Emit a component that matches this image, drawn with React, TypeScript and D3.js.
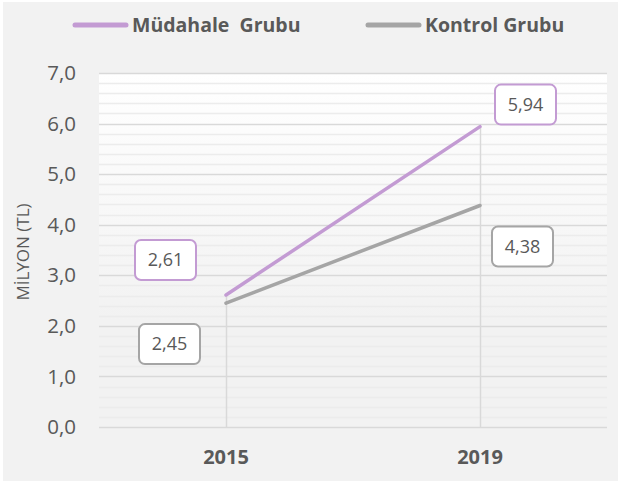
import React, { useEffect, useRef } from "react";
import * as d3 from "d3";

const years = ["2015", "2019"];
const mudahale = [2.61, 5.94];
const kontrol = [2.45, 4.38];
const seriesNames = ["Müdahale  Grubu", "Kontrol Grubu"];
const yTicks = [0, 1, 2, 3, 4, 5, 6, 7];
const yTitle = "MİLYON (TL)";

const FONT = "'Open Sans', 'Noto Sans', sans-serif";
const TEXT = "#595959";

const App = () => {
  const ref = useRef<SVGSVGElement>(null);

  useEffect(() => {
    const width = 618;
    const height = 481;
    const margin = { top: 73, right: 11, bottom: 54, left: 99 };

    const svg = d3.select(ref.current);
    svg.selectAll("*").remove();

    svg.append("rect").attr("width", width).attr("height", height).attr("fill", "#fff");
    svg
      .append("rect")
      .attr("x", 3)
      .attr("y", 2)
      .attr("width", width - 3)
      .attr("height", height - 2)
      .attr("fill", "#f2f2f2");

    const x = d3
      .scalePoint()
      .domain(years)
      .range([margin.left, width - margin.right])
      .padding(0.5);

    const y = d3
      .scaleLinear()
      .domain([0, 7])
      .range([height - margin.bottom, margin.top]);

    // plot area gradient
    const grad = svg
      .append("defs")
      .append("linearGradient")
      .attr("id", "plotGrad")
      .attr("x1", 0)
      .attr("y1", 0)
      .attr("x2", 0)
      .attr("y2", 1);
    grad.append("stop").attr("offset", "0%").attr("stop-color", "#ffffff");
    grad.append("stop").attr("offset", "70%").attr("stop-color", "#f2f2f2");

    svg
      .append("rect")
      .attr("x", margin.left)
      .attr("y", y(7))
      .attr("width", width - margin.right - margin.left)
      .attr("height", y(0) - y(7))
      .attr("fill", "url(#plotGrad)");

    // minor gridlines
    const minor = d3.range(0, 7, 0.2).filter((v) => Math.abs(v - Math.round(v)) > 0.01);
    svg
      .append("g")
      .selectAll("line")
      .data(minor)
      .join("line")
      .attr("x1", margin.left)
      .attr("x2", width - margin.right)
      .attr("y1", (d) => Math.round(y(d)) + 0.5)
      .attr("y2", (d) => Math.round(y(d)) + 0.5)
      .attr("stroke", "#ececec")
      .attr("stroke-width", 1.5);

    // major gridlines
    svg
      .append("g")
      .selectAll("line")
      .data(yTicks)
      .join("line")
      .attr("x1", margin.left)
      .attr("x2", width - margin.right)
      .attr("y1", (d) => Math.round(y(d)) + 0.5)
      .attr("y2", (d) => Math.round(y(d)) + 0.5)
      .attr("stroke", "#d9d9d9")
      .attr("stroke-width", 1.5);

    // y tick labels
    svg
      .append("g")
      .selectAll("text")
      .data(yTicks)
      .join("text")
      .attr("x", 76)
      .attr("y", (d) => y(d))
      .attr("dy", "0.35em")
      .attr("text-anchor", "end")
      .attr("font-family", FONT)
      .attr("font-size", 20.5)
      .attr("fill", TEXT)
      .text((d) => d3.format(".1f")(d).replace(".", ","));

    // x labels
    svg
      .append("g")
      .selectAll("text")
      .data(years)
      .join("text")
      .attr("x", (d) => x(d)!)
      .attr("y", 464)
      .attr("text-anchor", "middle")
      .attr("font-family", FONT)
      .attr("font-size", 20)
      .attr("font-weight", "bold")
      .attr("fill", TEXT)
      .text((d) => d);

    // y title
    svg
      .append("text")
      .attr("transform", `translate(29,${(y(0) + y(7)) / 2 + 2}) rotate(-90)`)
      .attr("text-anchor", "middle")
      .attr("font-family", FONT)
      .attr("font-size", 17)
      .attr("fill", TEXT)
      .text(yTitle);

    // drop lines
    svg
      .append("g")
      .selectAll("line")
      .data(years)
      .join("line")
      .attr("x1", (d) => Math.round(x(d)!) + 0.5)
      .attr("x2", (d) => Math.round(x(d)!) + 0.5)
      .attr("y1", (d, i) => y(Math.max(mudahale[i], kontrol[i])))
      .attr("y2", y(0))
      .attr("stroke", "#d9d9d9")
      .attr("stroke-width", 1.5);

    const series = [
      { name: seriesNames[0], values: mudahale, color: "#c39bd3" },
      { name: seriesNames[1], values: kontrol, color: "#a5a5a5" },
    ];

    const line = d3
      .line<number>()
      .x((d, i) => x(years[i])!)
      .y((d) => y(d));

    series.forEach((s) => {
      svg
        .append("path")
        .datum(s.values)
        .attr("fill", "none")
        .attr("stroke", s.color)
        .attr("stroke-width", 3.5)
        .attr("stroke-linecap", "round")
        .attr("d", line);
    });

    // data labels (offsets relative to point)
    const labelPos = [
      [
        [-61, -35],
        [45, -22],
      ],
      [
        [-57, 41],
        [42, 41],
      ],
    ];
    series.forEach((s, si) => {
      s.values.forEach((v, i) => {
        const cx = x(years[i])! + labelPos[si][i][0];
        const cy = y(v) + labelPos[si][i][1];
        const g = svg.append("g");
        g.append("rect")
          .attr("x", cx - 30)
          .attr("y", cy - 20)
          .attr("width", 61)
          .attr("height", 40)
          .attr("rx", 6)
          .attr("fill", "#fff")
          .attr("stroke", s.color)
          .attr("stroke-width", 2);
        g.append("text")
          .attr("x", cx + 0.5)
          .attr("y", cy)
          .attr("dy", "0.35em")
          .attr("text-anchor", "middle")
          .attr("font-family", FONT)
          .attr("font-size", 18)
          .attr("fill", TEXT)
          .text(d3.format(".2f")(v).replace(".", ","));
      });
    });

    // legend
    const legendX = [73, 366];
    series.forEach((s, i) => {
      const g = svg.append("g").attr("transform", `translate(${legendX[i]},25)`);
      g.append("line")
        .attr("x1", 2)
        .attr("x2", 53)
        .attr("stroke", s.color)
        .attr("stroke-width", 5)
        .attr("stroke-linecap", "round");
      g.append("text")
        .attr("x", 59)
        .attr("dy", "0.35em")
        .attr("font-family", FONT)
        .attr("font-size", 19.5)
        .attr("font-weight", "bold")
        .attr("fill", TEXT)
        .attr("xml:space", "preserve")
        .style("white-space", "pre")
        .text(s.name);
    });
  }, []);

  return (
    <svg
      ref={ref}
      width={618}
      height={481}
      style={{ position: "absolute", left: 0, top: 0, display: "block" }}
    ></svg>
  );
};

export default App;
